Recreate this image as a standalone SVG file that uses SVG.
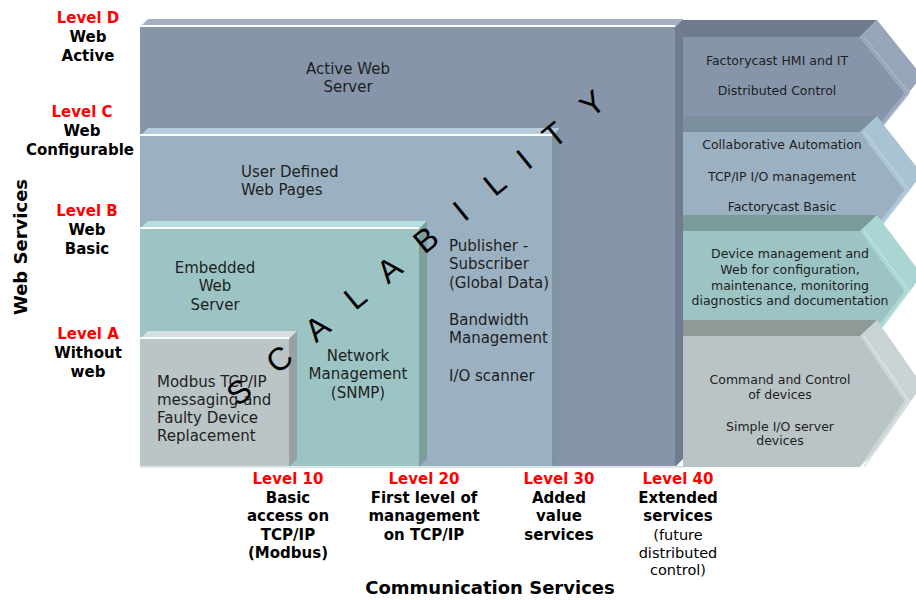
<svg xmlns="http://www.w3.org/2000/svg" width="916" height="600" viewBox="0 0 916 600">
  <defs>
    <style>
      text { font-family: "DejaVu Sans", Verdana, sans-serif; }
      .blk { font-size: 15px; fill: #1e1e1e; }
      .arr { font-size: 12.5px; fill: #1e1e1e; text-anchor: middle; }
      .mid { text-anchor: middle; }
      .lvl { font-size: 15px; font-weight: bold; fill: #ff0000; text-anchor: middle; }
      .lbl { font-size: 15px; font-weight: bold; fill: #000; text-anchor: middle; }
      .reg { font-size: 14.5px; fill: #000; text-anchor: middle; }
      .axis { font-size: 18px; font-weight: bold; fill: #000; text-anchor: middle; }
      .big { font-family: "Liberation Sans", Arial, sans-serif; font-size: 32px; fill: #000; text-anchor: middle; }
      .hl { fill: none; stroke-width: 1.5; }
      .edge { stroke: #ffffff; stroke-width: 2; }
    </style>
  </defs>

  <rect width="916" height="600" fill="#ffffff"/>

  <!-- Level D block: Active Web Server -->
  <g id="block-d">
    <polygon points="140,27 148,19 683,19 675,27" fill="#a3afc5"/>
    <rect x="140" y="27" width="535" height="440" fill="#8795ab"/>
    <line class="edge" x1="140" y1="26" x2="675" y2="26"/>
    <polygon points="675,27 683,19 683,459 675,467" fill="#6f7b8f"/>
    <text class="blk mid" x="348" y="74">Active Web</text>
    <text class="blk mid" x="348" y="92">Server</text>
  </g>

  <!-- Level C block: User Defined Web Pages -->
  <g id="block-c">
    <polygon points="140,136 148,128 560,128 552,136" fill="#b4ccdd"/>
    <rect x="140" y="136" width="412" height="331" fill="#9bb1c2"/>
    <line class="edge" x1="140" y1="135" x2="552" y2="135"/>
    <polygon points="552,136 560,128 560,459 552,467" fill="#7f93a0"/>
    <text class="blk" x="241" y="177">User Defined</text>
    <text class="blk" x="241" y="195">Web Pages</text>
    <text class="blk" x="449" y="251">Publisher -</text>
    <text class="blk" x="449" y="269">Subscriber</text>
    <text class="blk" x="449" y="288">(Global Data)</text>
    <text class="blk" x="449" y="325">Bandwidth</text>
    <text class="blk" x="449" y="343">Management</text>
    <text class="blk" x="449" y="381">I/O scanner</text>
  </g>

  <!-- Level B block: Embedded Web Server -->
  <g id="block-b">
    <polygon points="140,229 148,221 427,221 419,229" fill="#b6dfdf"/>
    <rect x="140" y="229" width="279" height="238" fill="#9cc4c4"/>
    <line class="edge" x1="140" y1="228" x2="419" y2="228"/>
    <polygon points="419,229 427,221 427,459 419,467" fill="#7e9e9e"/>
    <text class="blk mid" x="215" y="273">Embedded</text>
    <text class="blk mid" x="215" y="291">Web</text>
    <text class="blk mid" x="215" y="310">Server</text>
    <text class="blk mid" x="358" y="361">Network</text>
    <text class="blk mid" x="358" y="379">Management</text>
    <text class="blk mid" x="358" y="398">(SNMP)</text>
  </g>

  <!-- Level A block: Modbus messaging -->
  <g id="block-a">
    <polygon points="140,339 148,331 297,331 289,339" fill="#d7e0e0"/>
    <rect x="140" y="339" width="149" height="128" fill="#bbc5c7"/>
    <line class="edge" x1="140" y1="338" x2="289" y2="338"/>
    <polygon points="289,339 297,331 297,459 289,467" fill="#97a1a3"/>
    <text class="blk" x="157" y="387">Modbus TCP/IP</text>
    <text class="blk" x="157" y="405">messaging and</text>
    <text class="blk" x="157" y="423">Faulty Device</text>
    <text class="blk" x="157" y="441">Replacement</text>
  </g>

  <!-- light base strip under the blocks -->
  <rect x="140" y="466" width="543" height="2" fill="#dfe6e7"/>

  <!-- Service arrows, drawn top to bottom so each overlaps the one above -->
  <g id="arrow-1">
    <polygon points="683,20 877,20 860,37 683,37" fill="#6e7a8d"/>
    <polygon points="683,37 860,37 905,93 860,149 683,149" fill="#8795ab"/>
    <polygon points="877,20 922,76 877,132 860,149 905,93 860,37" fill="#97a5bb"/>
    <polyline class="hl" points="864,37 909,93 864,149" stroke="#a9b6ca"/>
    <text class="arr" x="777" y="65">Factorycast HMI and IT</text>
    <text class="arr" x="777" y="95">Distributed Control</text>
  </g>

  <g id="arrow-2">
    <polygon points="683,116 877,116 860,132 683,132" fill="#7c919d"/>
    <polygon points="683,132 860,132 905,190 860,248 683,248" fill="#9bb1c2"/>
    <polygon points="877,116 922,174 877,232 860,248 905,190 860,132" fill="#a8c3d3"/>
    <polyline class="hl" points="864,132 909,190 864,248" stroke="#bad2e0"/>
    <text class="arr" x="782" y="149">Collaborative Automation</text>
    <text class="arr" x="782" y="181">TCP/IP I/O management</text>
    <text class="arr" x="782" y="211">Factorycast Basic</text>
  </g>

  <g id="arrow-3">
    <polygon points="683,215 877,215 860,231 683,231" fill="#7a9b98"/>
    <polygon points="683,231 860,231 905,291 860,351 683,351" fill="#9cc4c4"/>
    <polygon points="877,215 922,275 877,335 860,351 905,291 860,231" fill="#a9d5d3"/>
    <polyline class="hl" points="864,231 909,291 864,351" stroke="#bde3e1"/>
    <text class="arr" x="790" y="258">Device management and</text>
    <text class="arr" x="790" y="274">Web for configuration,</text>
    <text class="arr" x="790" y="290">maintenance, monitoring</text>
    <text class="arr" x="790" y="305">diagnostics and documentation</text>
  </g>

  <g id="arrow-4">
    <polygon points="683,320 877,320 860,336 683,336" fill="#8f9997"/>
    <polygon points="683,336 860,336 905,401 860,467 683,467" fill="#bac4c6"/>
    <polygon points="877,320 922,385 877,450 860,467 905,401 860,336" fill="#cad4d5"/>
    <polyline class="hl" points="864,336 909,401 864,467" stroke="#dbe3e3"/>
    <text class="arr" x="780" y="384">Command and Control</text>
    <text class="arr" x="780" y="399">of devices</text>
    <text class="arr" x="780" y="431">Simple I/O server</text>
    <text class="arr" x="780" y="445">devices</text>
  </g>

  <!-- Diagonal SCALABILITY lettering -->
  <g id="scalability" transform="translate(239,392) rotate(-39.2)">
    <text class="big" x="0" y="11">S</text>
    <text class="big" x="52" y="11">C</text>
    <text class="big" x="101" y="11">A</text>
    <text class="big" x="150" y="11">L</text>
    <text class="big" x="194" y="11">A</text>
    <text class="big" x="241" y="11">B</text>
    <text class="big" x="286" y="11">I</text>
    <text class="big" x="330" y="11">L</text>
    <text class="big" x="368" y="11">I</text>
    <text class="big" x="407" y="11">T</text>
    <text class="big" x="456" y="11">Y</text>
  </g>

  <!-- Web service levels (vertical axis) -->
  <g id="web-levels">
    <text class="axis" transform="translate(27,247) rotate(-90)">Web Services</text>
    <text class="lvl" x="88" y="23">Level D</text>
    <text class="lbl" x="88" y="42">Web</text>
    <text class="lbl" x="88" y="61">Active</text>
    <text class="lvl" x="82" y="117">Level C</text>
    <text class="lbl" x="82" y="136">Web</text>
    <text class="lbl" x="80" y="155">Configurable</text>
    <text class="lvl" x="87" y="216">Level B</text>
    <text class="lbl" x="87" y="235">Web</text>
    <text class="lbl" x="87" y="254">Basic</text>
    <text class="lvl" x="88" y="339">Level A</text>
    <text class="lbl" x="88" y="358">Without</text>
    <text class="lbl" x="88" y="377">web</text>
  </g>

  <!-- Communication service levels (horizontal axis) -->
  <g id="comm-levels">
    <text class="lvl" x="288" y="484">Level 10</text>
    <text class="lbl" x="288" y="502.5">Basic</text>
    <text class="lbl" x="288" y="521">access on</text>
    <text class="lbl" x="288" y="539.5">TCP/IP</text>
    <text class="lbl" x="288" y="558">(Modbus)</text>

    <text class="lvl" x="424" y="484">Level 20</text>
    <text class="lbl" x="424" y="502.5">First level of</text>
    <text class="lbl" x="424" y="521">management</text>
    <text class="lbl" x="424" y="539.5">on TCP/IP</text>

    <text class="lvl" x="559" y="484">Level 30</text>
    <text class="lbl" x="559" y="502.5">Added</text>
    <text class="lbl" x="559" y="521">value</text>
    <text class="lbl" x="559" y="539.5">services</text>

    <text class="lvl" x="678" y="484">Level 40</text>
    <text class="lbl" x="678" y="502.5">Extended</text>
    <text class="lbl" x="678" y="521">services</text>
    <text class="reg" x="678" y="540">(future</text>
    <text class="reg" x="678" y="557.5">distributed</text>
    <text class="reg" x="678" y="575">control)</text>

    <text class="axis" x="490" y="594">Communication Services</text>
  </g>
</svg>
